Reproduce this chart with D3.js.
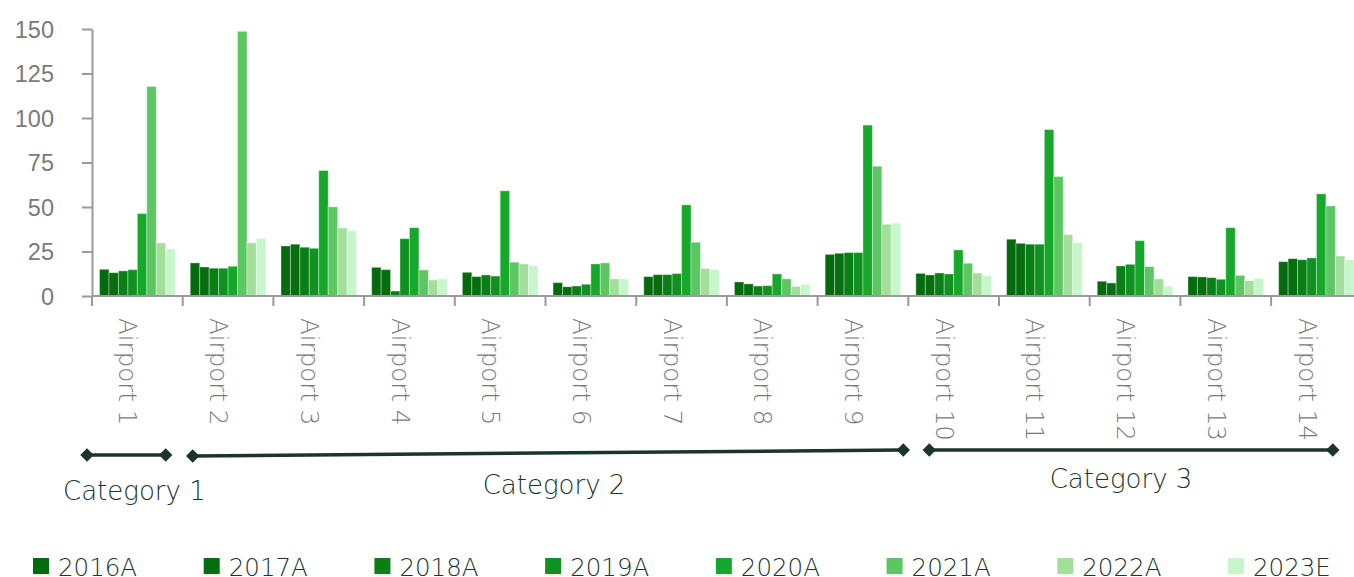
<!DOCTYPE html>
<html>
<head>
<meta charset="utf-8">
<script src="https://cdn.jsdelivr.net/npm/d3@7"></script>
<style>
  html, body { margin: 0; padding: 0; background: #fff; overflow: hidden; }
  svg { display: block; font-family: "DejaVu Sans", sans-serif; font-weight: 200; }
</style>
</head>
<body>
<svg id="chart" width="1354" height="577"></svg>
<script>
const airports = ["Airport 1","Airport 2","Airport 3","Airport 4","Airport 5","Airport 6","Airport 7",
                  "Airport 8","Airport 9","Airport 10","Airport 11","Airport 12","Airport 13","Airport 14"];
const seriesNames = ["2016A","2017A","2018A","2019A","2020A","2021A","2022A","2023E"];
const v2016A = [15.0, 18.6, 28.1, 16.1, 13.3, 7.5, 10.9, 7.9, 23.4, 12.7, 31.9, 8.3, 10.9, 19.3];
const v2017A = [13.1, 16.3, 29.1, 14.8, 10.9, 5.2, 12.0, 6.8, 24.0, 11.8, 29.6, 7.3, 10.7, 21.0];
const v2018A = [14.1, 15.6, 27.4, 2.8, 11.8, 5.6, 12.0, 5.6, 24.4, 12.9, 29.1, 16.9, 10.3, 20.4];
const v2019A = [14.8, 15.6, 26.8, 32.2, 11.2, 6.6, 12.6, 5.8, 24.4, 12.4, 29.1, 17.8, 9.4, 21.4];
const v2020A = [46.3, 16.7, 70.5, 38.4, 59.1, 18.0, 51.2, 12.4, 96.0, 25.9, 93.5, 31.1, 38.4, 57.4];
const v2021A = [117.7, 148.7, 50.1, 14.6, 19.0, 18.6, 30.2, 9.6, 72.9, 18.4, 67.1, 16.5, 11.6, 50.6];
const v2022A = [29.8, 29.8, 38.2, 9.0, 18.0, 9.6, 15.4, 5.4, 40.3, 12.9, 34.5, 9.6, 8.6, 22.5];
const v2023E = [26.4, 32.2, 36.7, 9.6, 17.1, 9.6, 14.8, 6.6, 40.9, 11.4, 30.0, 5.6, 9.9, 20.4];
const yTicks = [0, 25, 50, 75, 100, 125, 150];
const categoryNames = ["Category 1", "Category 2", "Category 3"];
const categoryFirst = ["Airport 1", "Airport 2", "Airport 10"];
const categoryLast  = ["Airport 1", "Airport 9", "Airport 14"];

(function () {
const seriesValues = [v2016A, v2017A, v2018A, v2019A, v2020A, v2021A, v2022A, v2023E];
const colors = ["#046a0e", "#066e0e", "#0a7f16", "#0f9221", "#16a82a", "#5cc663", "#a3df9b", "#c8f6cc"];

const svg = d3.select("#chart");
const pLeft = 92, pTop = 29, pBottom = 296, step = 90.7;
const pRight = pLeft + step * airports.length;

const x0 = d3.scaleBand().domain(airports).range([pLeft, pRight]).padding(0);
const x1 = d3.scaleBand().domain(seriesNames).range([0, x0.bandwidth()]).paddingInner(0).paddingOuter(0.8);
const y = d3.scaleLinear().domain([0, 150]).range([pBottom, pTop]);
const color = d3.scaleOrdinal().domain(seriesNames).range(colors);

const axisColor = "#9a9a9a";
const darkInk = "#1b3526";

// bars
const rows = airports.map((a, i) => ({ airport: a, vals: seriesNames.map((s, j) => ({ s, v: seriesValues[j][i] })) }));
const g = svg.append("g");
g.selectAll("g.grp").data(rows).join("g")
  .attr("class", "grp")
  .attr("transform", d => `translate(${x0(d.airport)},0)`)
  .selectAll("rect").data(d => d.vals).join("rect")
  .attr("x", d => x1(d.s))
  .attr("width", x1.bandwidth())
  .attr("y", d => y(d.v))
  .attr("height", d => y(0) - y(d.v))
  .attr("fill", d => color(d.s))
  .attr("stroke", "rgba(255,255,255,0.35)")
  .attr("stroke-width", 1);

// y axis
const yAxis = svg.append("g").attr("transform", `translate(${pLeft},0)`)
  .call(d3.axisLeft(y).tickValues(yTicks).tickSize(10).tickSizeOuter(0).tickPadding(28));
yAxis.select(".domain").attr("stroke", axisColor).attr("stroke-width", 2);
yAxis.selectAll(".tick line").attr("stroke", axisColor).attr("stroke-width", 2);
yAxis.selectAll(".tick text").attr("fill", "#7a7a7a").attr("font-size", 23.5)
  .attr("font-family", null).attr("dy", "0.36em");

// x axis
const xAxis = svg.append("g").attr("transform", `translate(0,${pBottom})`);
xAxis.append("line").attr("x1", pLeft).attr("x2", pRight).attr("y1", 0).attr("y2", 0)
  .attr("stroke", axisColor).attr("stroke-width", 2);
const bounds = airports.map(a => x0(a)).concat([pRight]);
xAxis.selectAll("line.tk").data(bounds).join("line").attr("class", "tk")
  .attr("x1", d => d).attr("x2", d => d).attr("y1", 0).attr("y2", 10)
  .attr("stroke", axisColor).attr("stroke-width", 2);
xAxis.selectAll("text").data(airports).join("text")
  .attr("transform", d => `translate(${x0(d) + x0.bandwidth() / 2},22) rotate(90)`)
  .attr("dy", "0.73em")
  .attr("text-anchor", "start")
  .attr("fill", "#7a7a7a")
  .attr("font-size", 24.5)
  .text(d => d);

// category brackets
const catLayout = [
  { x1: x0(categoryFirst[0]) - 5, y1: 455, x2: x0(categoryLast[0]) + x0.bandwidth() - 17, y2: 455, tx: 8, ty: 45 },
  { x1: x0(categoryFirst[1]) + 10, y1: 456, x2: x0(categoryLast[1]) + x0.bandwidth() - 5, y2: 450, tx: 6, ty: 41 },
  { x1: x0(categoryFirst[2]) + 21, y1: 450, x2: x0(categoryLast[2]) + x0.bandwidth() - 29, y2: 450, tx: -10, ty: 38 }
];
const diamond = d3.symbol().type(d3.symbolSquare).size(90);
const cg = svg.append("g");
categoryNames.forEach((name, i) => {
  const c = catLayout[i];
  cg.append("line").attr("x1", c.x1).attr("y1", c.y1).attr("x2", c.x2).attr("y2", c.y2)
    .attr("stroke", darkInk).attr("stroke-width", 3.5);
  [[c.x1, c.y1], [c.x2, c.y2]].forEach(p => {
    cg.append("path").attr("d", diamond())
      .attr("transform", `translate(${p[0]},${p[1]}) rotate(45)`)
      .attr("fill", darkInk);
  });
  cg.append("text")
    .attr("x", (c.x1 + c.x2) / 2 + c.tx)
    .attr("y", (c.y1 + c.y2) / 2 + c.ty)
    .attr("text-anchor", "middle")
    .attr("fill", darkInk)
    .attr("font-size", 26)
    .text(name);
});

// legend
const lg = svg.append("g");
const legendX = d3.scalePoint().domain(seriesNames).range([33, 1228]);
const items = lg.selectAll("g").data(seriesNames).join("g")
  .attr("transform", d => `translate(${legendX(d)},558)`);
items.append("rect").attr("width", 16).attr("height", 16).attr("fill", d => color(d));
items.append("text").attr("x", 25).attr("y", 18)
  .attr("fill", darkInk).attr("font-size", 24.5).text(d => d);
})();
</script>
</body>
</html>
